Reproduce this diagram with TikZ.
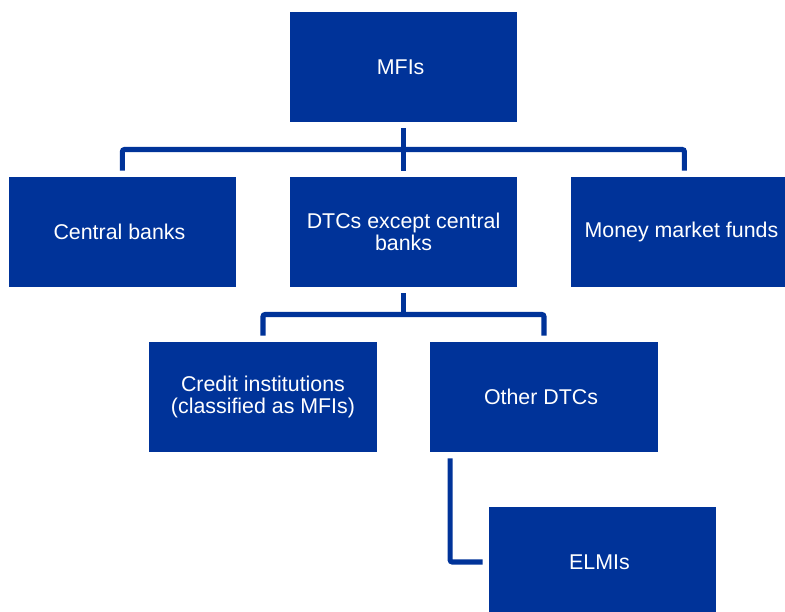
\documentclass[tikz,border=0pt]{standalone}
\usepackage{fontspec}
\setmainfont{Liberation Sans}
\usetikzlibrary{positioning,calc}
\usepackage{xcolor}
\definecolor{ecbblue}{RGB}{0,51,153}

\begin{document}
\begin{tikzpicture}[every node/.style={
    rectangle,
    inner sep=3pt,
    fill=ecbblue,
    text=white,
    align=center,
    minimum width=5.68cm,
    minimum height=2.75cm,
    font=\fontsize{15.2pt}{15.6pt}\selectfont
}, link/.style={
    ecbblue,
    line width=3.6pt,
    rounded corners=1.5pt,
    shorten <=0.15cm,
    shorten >=0.15cm
}]
    \useasboundingbox (0, 0) rectangle (19.625, -15.3);
    \clip (0, 0) rectangle (19.625, -15.3);
    \node (mfis) [shift={(10.09, -1.675)}]
    {
        MFIs
    };
    \node (central_banks) [shift={(3.06, -5.8)}]
    {
        Central banks
    };
    \node (dtcs) [shift={(10.09, -5.8)}]
    {
        DTCs except central\\banks
    };
    \node (mmf) [shift={(17.11, -5.8)}]
    {
        Money market funds
    };
    \node (credit_institutions) [shift={(6.575, -9.925)}]
    {
        Credit institutions\\(classified as MFIs)
    };
    \node (other_dtcs) [shift={(13.6, -9.925)}]
    {
        Other DTCs
    };
    \node (elmis) [shift={(15.06, -14.05)}]
    {
        ELMIs
    };
    \draw[link] (mfis) -- (dtcs);
    \draw[link] (central_banks.north) |- ($(mfis.south)!0.5!(dtcs.north)$) -| (mmf.north);
    \draw[link, shorten >=0pt] (dtcs.south) -- ($(dtcs.south)!0.5!(credit_institutions.north -| dtcs.south)$);
    \draw[link] (credit_institutions.north) |- ($(dtcs.south)!0.5!(credit_institutions.north -| dtcs.south)$) -| (other_dtcs.north);
    \draw[link] ([xshift=0.5cm]other_dtcs.south west) |- (elmis.west);
\end{tikzpicture}
\end{document}
